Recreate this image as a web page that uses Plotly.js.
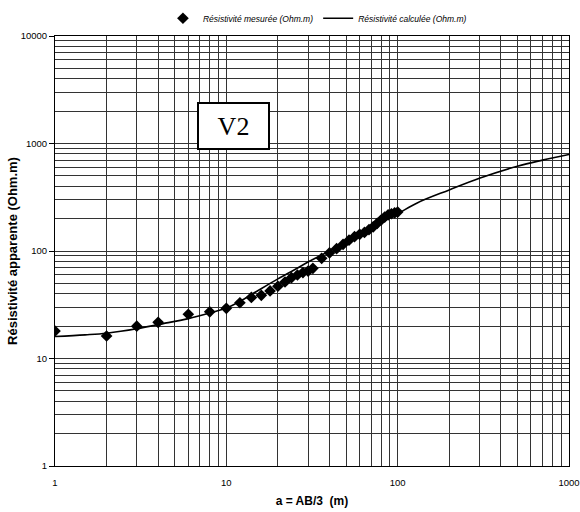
<!DOCTYPE html>
<html>
<head>
<meta charset="utf-8">
<script src="https://cdn.plot.ly/plotly-3.0.1.min.js"></script>
<style>html,body{margin:0;padding:0;background:#fff;}#chart{width:580px;height:512px;}</style>
</head>
<body>
<div id="chart"></div>
<script>
// Measured apparent resistivity
const measuredX = [1, 2, 3, 4, 6, 8, 10, 12, 14, 16, 18, 20, 22, 24, 26, 28, 30, 32,
  36, 40, 44, 48, 52, 56, 60, 64, 68, 72, 76, 80, 84, 88, 92, 96, 100];
const measuredY = [18, 16.2, 20, 21.7, 25.8, 27.2, 29.3, 33, 37, 38.7, 42.5, 47, 51.5, 56.5, 59.8, 63, 65, 69,
  85.5, 96, 105, 115, 126, 136, 143, 149, 158, 168, 181, 194, 207, 217, 222, 226, 230];
// Calculated apparent resistivity
const calcX = [1, 1.5, 2, 3, 4, 6, 8, 10, 12, 15, 20, 25, 30, 40, 50, 60, 80, 100, 130, 200, 300, 500, 700, 1000];
const calcY = [16, 16.6, 17.2, 18.9, 20.7, 23.5, 26.5, 29.5, 34, 42, 55, 67, 79, 100, 122, 143, 185, 222, 280, 370, 475, 615, 700, 790];

const xTickVals = [1, 10, 100, 1000];
const xTickText = ['1', '10', '100', '1000'];
const yTickVals = [1, 10, 100, 1000, 10000];
const yTickText = ['1', '10', '100', '1000', '10000'];

const seriesNames = ['Résistivité mesurée (Ohm.m)', 'Résistivité calculée (Ohm.m)'];

const data = [
  {x: measuredX, y: measuredY, type: 'scatter', mode: 'markers', name: seriesNames[0],
   marker: {symbol: 'diamond', size: 9, color: '#000'}},
  {x: calcX, y: calcY, type: 'scatter', mode: 'lines', name: seriesNames[1],
   line: {color: '#000', width: 1.6, shape: 'spline'}}
];

const gridC = '#333333';
const layout = {
  width: 580, height: 512,
  margin: {l: 55, r: 11, t: 36, b: 46, autoexpand: false},
  paper_bgcolor: '#fff', plot_bgcolor: '#fff',
  font: {family: 'Liberation Sans, Arial, sans-serif', color: '#000', size: 9.5},
  showlegend: true,
  legend: {orientation: 'h', x: 0.21, xanchor: 'left', y: 1.075, yanchor: 'top',
    font: {size: 8.5, style: 'italic'}, itemwidth: 30, tracegroupgap: 0},
  xaxis: {type: 'log', range: [0, 3], tickvals: xTickVals, ticktext: xTickText,
    showgrid: true, gridcolor: gridC, gridwidth: 1, ticks: '', ticklabelstandoff: 8,
    ticklabeloverflow: 'allow',
    showline: true, linecolor: '#000', mirror: true, zeroline: false,
    minor: {dtick: 'D1', showgrid: true, gridcolor: gridC, gridwidth: 1, ticks: ''},
    title: {text: 'a = AB/3  (m)', font: {size: 12, weight: 'bold'}, standoff: 9}},
  yaxis: {type: 'log', range: [0, 4], tickvals: yTickVals, ticktext: yTickText,
    showgrid: true, gridcolor: gridC, gridwidth: 1, ticks: 'outside', ticklen: 5, tickcolor: '#000',
    showline: true, linecolor: '#000', mirror: true, zeroline: false,
    minor: {dtick: 'D1', showgrid: true, gridcolor: gridC, gridwidth: 1, ticks: ''},
    title: {text: 'Résistivité apparente (Ohm.m)', font: {size: 13, weight: 'bold'}, standoff: 0}},
  annotations: [{
    text: 'V2', xref: 'paper', yref: 'paper', x: 0.348, y: 0.791, showarrow: false,
    font: {family: 'Liberation Serif, Times New Roman, serif', size: 26, color: '#000'},
    bgcolor: '#fff', bordercolor: '#000', borderwidth: 2, borderpad: 2,
    width: 65, height: 40, xanchor: 'center', yanchor: 'middle'
  }]
};

Plotly.newPlot('chart', data, layout, {displayModeBar: false, staticPlot: true});
</script>
</body>
</html>
